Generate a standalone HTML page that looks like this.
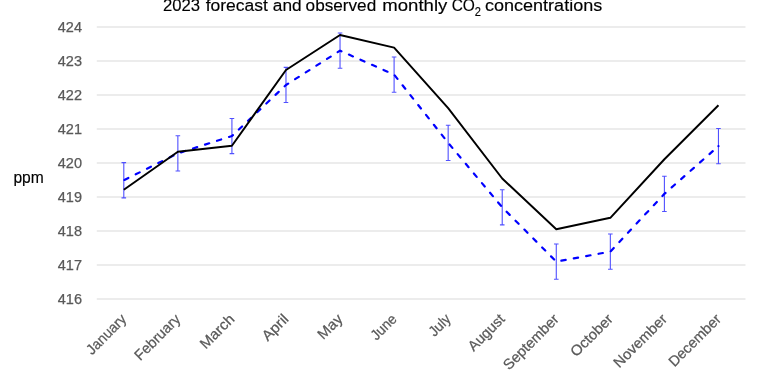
<!DOCTYPE html>
<html><head><meta charset="utf-8"><style>
html,body{margin:0;padding:0;background:#fff;width:768px;height:384px;overflow:hidden}
svg{position:absolute;left:0;top:0;will-change:transform}
text{font-family:"Liberation Sans",sans-serif}
.yl{font-size:14.5px;fill:#595959;stroke:#595959;stroke-width:0.25px;text-anchor:end}
.xl{font-size:14.6px;fill:#595959;stroke:#595959;stroke-width:0.25px;text-anchor:end}
.t{fill:#000;stroke:#000;stroke-width:0.15px}
.p{fill:#000;stroke:#000;stroke-width:0.15px}
</style></head><body>
<svg width="768" height="384" viewBox="0 0 768 384">
<text class="t" x="162.88" y="11.40" font-size="16.8" textLength="37.17" lengthAdjust="spacingAndGlyphs">2023</text>
<text class="t" x="205.69" y="11.40" font-size="16.8" textLength="62.21" lengthAdjust="spacingAndGlyphs">forecast</text>
<text class="t" x="272.85" y="11.40" font-size="16.8" textLength="28.80" lengthAdjust="spacingAndGlyphs">and</text>
<text class="t" x="305.58" y="11.40" font-size="16.8" textLength="70.64" lengthAdjust="spacingAndGlyphs">observed</text>
<text class="t" x="382.37" y="11.40" font-size="16.8" textLength="64.94" lengthAdjust="spacingAndGlyphs">monthly</text>
<text class="t" x="451.64" y="11.40" font-size="16.8" textLength="23.29" lengthAdjust="spacingAndGlyphs">CO</text>
<text class="t" x="474.80" y="16.00" font-size="12.2" textLength="6.20" lengthAdjust="spacingAndGlyphs">2</text>
<text class="t" x="484.99" y="11.40" font-size="16.8" textLength="117.23" lengthAdjust="spacingAndGlyphs">concentrations</text>
<text class="p" x="13.40" y="182.70" font-size="15.6" textLength="30.40" lengthAdjust="spacingAndGlyphs">ppm</text>
<line x1="96.77" y1="27.00" x2="745.50" y2="27.00" stroke="#d9d9d9" stroke-width="1.2"/>
<line x1="96.77" y1="61.00" x2="745.50" y2="61.00" stroke="#d9d9d9" stroke-width="1.2"/>
<line x1="96.77" y1="95.00" x2="745.50" y2="95.00" stroke="#d9d9d9" stroke-width="1.2"/>
<line x1="96.77" y1="129.00" x2="745.50" y2="129.00" stroke="#d9d9d9" stroke-width="1.2"/>
<line x1="96.77" y1="163.00" x2="745.50" y2="163.00" stroke="#d9d9d9" stroke-width="1.2"/>
<line x1="96.77" y1="197.00" x2="745.50" y2="197.00" stroke="#d9d9d9" stroke-width="1.2"/>
<line x1="96.77" y1="231.00" x2="745.50" y2="231.00" stroke="#d9d9d9" stroke-width="1.2"/>
<line x1="96.77" y1="265.00" x2="745.50" y2="265.00" stroke="#d9d9d9" stroke-width="1.2"/>
<line x1="96.77" y1="299.00" x2="745.50" y2="299.00" stroke="#d9d9d9" stroke-width="1.2"/>
<text x="82" y="31.50" class="yl">424</text>
<text x="82" y="65.50" class="yl">423</text>
<text x="82" y="99.50" class="yl">422</text>
<text x="82" y="133.50" class="yl">421</text>
<text x="82" y="167.50" class="yl">420</text>
<text x="82" y="201.50" class="yl">419</text>
<text x="82" y="235.50" class="yl">418</text>
<text x="82" y="269.50" class="yl">417</text>
<text x="82" y="303.50" class="yl">416</text>
<path d="M123.80 162.65V197.85M121.50 162.65H126.10M121.50 197.85H126.10" stroke="#5050ff" stroke-width="1.1" fill="none"/>
<path d="M177.86 135.75V170.95M175.56 135.75H180.16M175.56 170.95H180.16" stroke="#5050ff" stroke-width="1.1" fill="none"/>
<path d="M231.92 118.45V153.65M229.62 118.45H234.22M229.62 153.65H234.22" stroke="#5050ff" stroke-width="1.1" fill="none"/>
<path d="M285.98 67.35V102.55M283.68 67.35H288.28M283.68 102.55H288.28" stroke="#5050ff" stroke-width="1.1" fill="none"/>
<path d="M340.04 33.05V68.25M337.74 33.05H342.34M337.74 68.25H342.34" stroke="#5050ff" stroke-width="1.1" fill="none"/>
<path d="M394.10 57.05V92.25M391.80 57.05H396.40M391.80 92.25H396.40" stroke="#5050ff" stroke-width="1.1" fill="none"/>
<path d="M448.16 125.25V160.45M445.86 125.25H450.46M445.86 160.45H450.46" stroke="#5050ff" stroke-width="1.1" fill="none"/>
<path d="M502.22 189.70V224.90M499.92 189.70H504.52M499.92 224.90H504.52" stroke="#5050ff" stroke-width="1.1" fill="none"/>
<path d="M556.28 244.05V279.25M553.98 244.05H558.58M553.98 279.25H558.58" stroke="#5050ff" stroke-width="1.1" fill="none"/>
<path d="M610.34 234.00V269.20M608.04 234.00H612.64M608.04 269.20H612.64" stroke="#5050ff" stroke-width="1.1" fill="none"/>
<path d="M664.40 176.25V211.45M662.10 176.25H666.70M662.10 211.45H666.70" stroke="#5050ff" stroke-width="1.1" fill="none"/>
<path d="M718.46 128.55V163.75M716.16 128.55H720.76M716.16 163.75H720.76" stroke="#5050ff" stroke-width="1.1" fill="none"/>
<polyline points="123.80,180.25 177.86,153.35 231.92,136.05 285.98,84.95 340.04,50.65 394.10,74.65 448.16,142.85 502.22,207.30 556.28,261.65 610.34,251.60 664.40,193.85 718.46,146.15" fill="none" stroke="#0000ff" stroke-width="2.2" stroke-dasharray="4.4,8.2" stroke-dashoffset="11.9" stroke-linecap="round" stroke-linejoin="round"/>
<circle cx="718.46" cy="146.15" r="1.1" fill="#0000ff"/>
<polyline points="123.80,189.70 177.86,151.80 231.92,145.70 285.98,70.00 340.04,35.00 394.10,47.60 448.16,108.20 502.22,178.50 556.28,229.20 610.34,217.80 664.40,159.25 718.46,105.30" fill="none" stroke="#000" stroke-width="1.95" stroke-linejoin="round"/>
<text class="xl" transform="translate(127.30,320.00) rotate(-45)" x="0" y="0" textLength="50.06" lengthAdjust="spacingAndGlyphs">January</text>
<text class="xl" transform="translate(181.36,320.00) rotate(-45)" x="0" y="0" textLength="58.19" lengthAdjust="spacingAndGlyphs">February</text>
<text class="xl" transform="translate(235.42,320.00) rotate(-45)" x="0" y="0" textLength="42.10" lengthAdjust="spacingAndGlyphs">March</text>
<text class="xl" transform="translate(289.48,320.00) rotate(-45)" x="0" y="0" textLength="30.61" lengthAdjust="spacingAndGlyphs">April</text>
<text class="xl" transform="translate(343.54,320.00) rotate(-45)" x="0" y="0" textLength="28.59" lengthAdjust="spacingAndGlyphs">May</text>
<text class="xl" transform="translate(397.60,320.00) rotate(-45)" x="0" y="0" textLength="29.87" lengthAdjust="spacingAndGlyphs">June</text>
<text class="xl" transform="translate(451.66,320.00) rotate(-45)" x="0" y="0" textLength="24.43" lengthAdjust="spacingAndGlyphs">July</text>
<text class="xl" transform="translate(505.72,320.00) rotate(-45)" x="0" y="0" textLength="45.22" lengthAdjust="spacingAndGlyphs">August</text>
<text class="xl" transform="translate(559.78,320.00) rotate(-45)" x="0" y="0" textLength="71.78" lengthAdjust="spacingAndGlyphs">September</text>
<text class="xl" transform="translate(613.84,320.00) rotate(-45)" x="0" y="0" textLength="53.10" lengthAdjust="spacingAndGlyphs">October</text>
<text class="xl" transform="translate(667.90,320.00) rotate(-45)" x="0" y="0" textLength="68.70" lengthAdjust="spacingAndGlyphs">November</text>
<text class="xl" transform="translate(721.96,320.00) rotate(-45)" x="0" y="0" textLength="67.28" lengthAdjust="spacingAndGlyphs">December</text>
</svg>
</body></html>
